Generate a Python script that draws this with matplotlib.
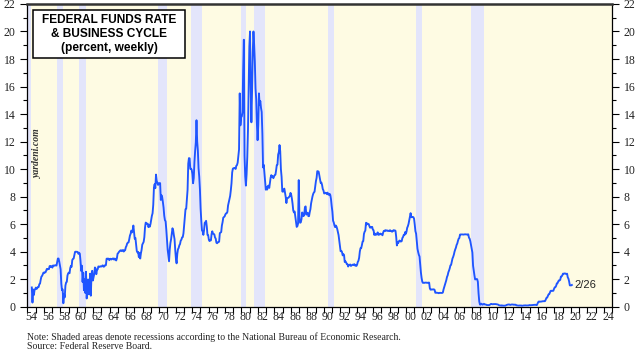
import numpy as np
import matplotlib.pyplot as plt
from matplotlib.patches import Rectangle

# monthly fed funds rate, Jul 1954 - Feb 2020
rate = [
    1.40, 0.30, 1.25, 0.85, 1.20, 1.30,
    1.39, 1.29, 1.35, 1.43, 1.43, 1.64, 1.68, 1.96, 2.18, 2.24, 2.35, 2.48,
    2.45, 2.50, 2.50, 2.62, 2.75, 2.71, 2.75, 2.73, 2.95, 2.96, 2.88, 2.94,
    2.84, 3.00, 2.96, 3.00, 3.00, 3.00, 2.99, 3.24, 3.50, 3.50, 3.28, 2.98,
    2.72, 1.67, 1.20, 1.26, 0.25, 0.93, 0.68, 1.53, 1.76, 1.80, 2.27, 2.42,
    2.48, 2.43, 2.80, 2.96, 2.90, 3.39, 3.47, 3.50, 3.76, 3.98, 4.00, 3.99,
    3.99, 3.97, 3.84, 3.92, 3.85, 3.32, 2.60, 2.98, 1.80, 2.47, 1.20, 1.98,
    1.00, 2.54, 0.60, 1.49, 1.98, 0.90, 1.17, 2.40, 0.80, 2.26, 2.61, 1.90,
    2.15, 2.37, 2.85, 2.78, 2.36, 2.68, 2.71, 2.93, 2.90, 2.90, 2.94, 2.93,
    2.92, 3.00, 2.98, 2.90, 3.00, 2.99, 3.02, 3.49, 3.48, 3.50, 3.48, 3.38,
    3.48, 3.48, 3.43, 3.47, 3.50, 3.50, 3.42, 3.50, 3.45, 3.36, 3.52, 3.85,
    3.90, 3.98, 4.04, 4.09, 4.10, 4.04, 4.09, 4.12, 4.01, 4.08, 4.10, 4.32,
    4.42, 4.60, 4.65, 4.67, 4.90, 5.17, 5.30, 5.53, 5.40, 5.53, 5.90, 5.40,
    4.94, 5.00, 4.53, 4.05, 3.94, 3.98, 3.60, 3.90, 3.50, 3.88, 4.13, 4.51,
    4.61, 4.71, 5.05, 5.76, 6.11, 6.07, 6.02, 6.03, 5.78, 5.91, 5.82, 6.02,
    6.30, 6.61, 6.79, 7.41, 8.67, 8.90, 8.61, 9.60, 9.15, 9.00, 8.85, 8.97,
    8.98, 8.98, 7.76, 8.10, 7.95, 7.61, 7.21, 6.61, 6.29, 6.20, 5.60, 4.90,
    4.14, 3.72, 3.30, 4.15, 4.63, 4.91, 5.31, 5.70, 5.55, 5.20, 4.91, 4.14,
    3.50, 3.15, 3.83, 4.17, 4.27, 4.46, 4.55, 4.80, 4.87, 5.04, 5.06, 5.33,
    5.94, 6.58, 7.09, 7.12, 7.84, 8.49, 10.40, 10.80, 10.78, 10.01, 10.03, 9.95,
    9.65, 8.97, 9.35, 10.51, 11.31, 11.93, 13.55, 12.01, 11.34, 10.06, 9.45, 8.53,
    7.13, 6.24, 5.54, 5.49, 5.22, 5.55, 6.10, 6.14, 6.24, 5.82, 5.22, 5.20,
    4.87, 4.77, 4.84, 4.82, 5.29, 5.48, 5.31, 5.29, 5.25, 5.03, 4.95, 4.65,
    4.61, 4.68, 4.69, 4.73, 5.35, 5.39, 5.42, 5.90, 6.14, 6.47, 6.51, 6.56,
    6.70, 6.78, 6.79, 6.89, 7.36, 7.60, 7.81, 8.04, 8.45, 8.96, 9.76, 10.03,
    10.07, 10.06, 10.09, 10.01, 10.24, 10.29, 10.47, 10.94, 11.43, 15.50, 13.18, 13.78,
    13.82, 14.13, 17.19, 19.40, 10.98, 9.47, 8.80, 9.61, 10.87, 12.81, 15.85, 18.90,
    20.00, 15.93, 13.40, 15.72, 18.52, 20.00, 19.04, 17.82, 15.87, 15.08, 13.31, 12.10,
    13.22, 15.50, 14.68, 14.94, 14.45, 14.15, 12.59, 10.12, 10.31, 9.71, 9.20, 8.50,
    8.68, 8.51, 8.77, 8.80, 8.63, 8.98, 9.37, 9.56, 9.45, 9.48, 9.34, 9.47,
    9.56, 9.59, 9.91, 10.29, 10.32, 11.06, 11.23, 11.75, 11.30, 9.99, 9.43, 8.38,
    8.35, 8.50, 8.58, 8.27, 7.97, 7.53, 7.88, 7.90, 7.92, 7.99, 8.05, 8.27,
    8.14, 7.86, 7.48, 6.99, 6.85, 6.92, 6.56, 6.17, 5.80, 5.85, 6.04, 9.20,
    6.43, 6.10, 6.13, 6.37, 6.85, 6.73, 6.58, 6.73, 7.22, 7.29, 6.69, 6.77,
    6.83, 6.58, 6.58, 6.87, 7.09, 7.51, 7.75, 8.01, 8.19, 8.30, 8.35, 8.76,
    9.12, 9.36, 9.85, 9.84, 9.81, 9.53, 9.24, 8.99, 9.02, 8.84, 8.55, 8.45,
    8.23, 8.24, 8.28, 8.26, 8.18, 8.29, 8.15, 8.13, 8.20, 8.11, 7.81, 7.31,
    6.91, 6.25, 6.12, 5.91, 5.78, 5.90, 5.82, 5.66, 5.45, 5.21, 4.81, 4.43,
    4.03, 4.06, 3.98, 3.73, 3.82, 3.76, 3.25, 3.30, 3.22, 3.10, 3.09, 2.92,
    3.02, 3.03, 3.07, 2.96, 3.00, 3.04, 3.06, 3.03, 3.09, 2.99, 3.02, 2.96,
    3.05, 3.25, 3.34, 3.56, 4.01, 4.25, 4.26, 4.47, 4.73, 4.76, 5.29, 5.45,
    5.53, 6.10, 5.98, 6.05, 6.01, 6.00, 5.85, 5.74, 5.80, 5.76, 5.80, 5.60,
    5.56, 5.22, 5.31, 5.22, 5.24, 5.27, 5.40, 5.22, 5.30, 5.24, 5.31, 5.29,
    5.25, 5.19, 5.39, 5.51, 5.50, 5.56, 5.52, 5.54, 5.54, 5.50, 5.52, 5.50,
    5.56, 5.51, 5.49, 5.45, 5.49, 5.56, 5.54, 5.55, 5.51, 5.07, 4.45, 4.68,
    4.63, 4.76, 4.81, 4.74, 4.74, 4.76, 4.99, 5.07, 5.22, 5.20, 5.42, 5.30,
    5.45, 5.73, 5.85, 6.02, 6.27, 6.53, 6.80, 6.50, 6.52, 6.51, 6.51, 6.40,
    5.98, 5.49, 5.31, 4.80, 4.21, 3.97, 3.77, 3.65, 3.07, 2.49, 2.09, 1.82,
    1.73, 1.74, 1.73, 1.75, 1.75, 1.75, 1.73, 1.74, 1.75, 1.75, 1.34, 1.24,
    1.24, 1.26, 1.25, 1.26, 1.26, 1.22, 1.01, 1.03, 1.01, 1.01, 1.00, 0.98,
    1.00, 1.01, 1.00, 1.00, 1.00, 1.03, 1.26, 1.43, 1.61, 1.76, 1.93, 2.16,
    2.28, 2.50, 2.63, 2.79, 3.00, 3.04, 3.26, 3.50, 3.62, 3.78, 4.00, 4.16,
    4.29, 4.49, 4.59, 4.79, 4.94, 4.99, 5.24, 5.25, 5.25, 5.25, 5.25, 5.24,
    5.25, 5.26, 5.26, 5.25, 5.25, 5.25, 5.26, 5.02, 4.94, 4.76, 4.49, 4.24,
    3.94, 2.98, 2.61, 2.28, 1.98, 2.00, 2.01, 2.00, 1.81, 0.97, 0.39, 0.16,
    0.15, 0.22, 0.18, 0.15, 0.18, 0.21, 0.16, 0.16, 0.15, 0.12, 0.12, 0.12,
    0.11, 0.13, 0.16, 0.20, 0.20, 0.18, 0.18, 0.19, 0.19, 0.19, 0.19, 0.18,
    0.17, 0.16, 0.14, 0.10, 0.09, 0.09, 0.07, 0.10, 0.08, 0.07, 0.08, 0.07,
    0.08, 0.10, 0.13, 0.14, 0.16, 0.16, 0.16, 0.13, 0.14, 0.16, 0.16, 0.16,
    0.14, 0.15, 0.14, 0.15, 0.11, 0.09, 0.09, 0.08, 0.08, 0.09, 0.08, 0.09,
    0.07, 0.07, 0.08, 0.09, 0.09, 0.10, 0.09, 0.09, 0.09, 0.09, 0.09, 0.12,
    0.11, 0.11, 0.11, 0.12, 0.12, 0.13, 0.13, 0.14, 0.14, 0.12, 0.12, 0.24,
    0.34, 0.38, 0.36, 0.37, 0.37, 0.38, 0.39, 0.40, 0.40, 0.40, 0.41, 0.54,
    0.65, 0.66, 0.79, 0.90, 0.91, 1.04, 1.15, 1.16, 1.15, 1.15, 1.16, 1.30,
    1.41, 1.42, 1.51, 1.69, 1.70, 1.82, 1.91, 1.91, 1.95, 2.19, 2.20, 2.27,
    2.40, 2.40, 2.41, 2.42, 2.39, 2.38, 2.40, 2.13, 2.04, 1.83, 1.55, 1.55,
    1.55, 1.58,
]
start_year = 1954.5

# NBER recessions (start, end) in years
recessions = [(1953.6, 1954.4), (1957.6, 1958.3), (1960.3, 1961.1),
              (1969.9, 1970.9), (1973.9, 1975.2), (1980.0, 1980.5),
              (1981.5, 1982.9), (1990.5, 1991.2), (2001.2, 2001.9),
              (2007.9, 2009.5)]

year_labels = [f"{y % 100:02d}" for y in range(1954, 2025, 2)]
y_ticks = list(range(0, 23, 2))
last_label = "2/26"

dates = start_year + np.arange(len(rate)) / 12 + 1 / 24

plt.rcParams["font.family"] = "Liberation Serif"

fig = plt.figure(figsize=(6.4, 3.5), dpi=100)
ax = fig.add_axes([0.0427, 0.1237, 0.9136, 0.865])
ax.set_facecolor("#fefbe3")

for s, e in recessions:
    ax.axvspan(s, e, color="#e3e5fb", lw=0, zorder=0)

ax.plot(dates, rate, color="#1f55ff", lw=1.35, zorder=3)

ax.set_xlim(1954.0, 2025.0)
ax.set_ylim(0, 22)

ax.set_xticks(range(1954, 2026))
ax.set_xticklabels([])
ax.set_xticks([y + 0.5 for y in range(1954, 2025, 2)], year_labels, minor=True)
ax.tick_params(axis="x", which="major", direction="out", length=4, width=0.8)
ax.tick_params(axis="x", which="minor", length=0, pad=3, labelsize=8.5,
               labelcolor="#222222")

ax.set_yticks(y_ticks)
ax.set_yticks(range(1, 22, 2), minor=True)
ax.tick_params(axis="y", which="both", direction="out", left=True, right=True,
               labelleft=True, labelright=True, width=0.8)
ax.tick_params(axis="y", which="major", length=5, labelsize=8.5,
               labelcolor="#222222")
ax.tick_params(axis="y", which="minor", length=3)

for side in ["left", "right", "bottom"]:
    ax.spines[side].set_linewidth(0.9)
ax.spines["top"].set_linewidth(1.8)
ax.spines["top"].set_color("#333333")

# title box
ax.add_patch(Rectangle((0.0097, 0.822), 0.26, 0.158, transform=ax.transAxes,
                       facecolor="white", edgecolor="black", lw=1.1, zorder=5))
ax.text(0.1396, 0.901, "FEDERAL FUNDS RATE\n& BUSINESS CYCLE\n(percent, weekly)",
        transform=ax.transAxes, ha="center", va="center", fontsize=8.6,
        fontweight="bold", family="Liberation Sans", linespacing=1.2, zorder=6)

ax.text(0.0175, 0.508, "yardeni.com", transform=ax.transAxes, rotation=90,
        ha="center", va="center", fontsize=7, style="italic",
        fontweight="bold", color="#333333")

ax.text(dates[-1] + 0.3, rate[-1], last_label, ha="left", va="center",
        fontsize=8, family="Liberation Sans", color="#222222")

fig.text(0.0427, 0.024, "Note: Shaded areas denote recessions according to the National Bureau of Economic Research.\nSource: Federal Reserve Board.",
         ha="left", va="center", fontsize=7, linespacing=0.95, color="#222222")

plt.savefig("out.png", dpi=100)
